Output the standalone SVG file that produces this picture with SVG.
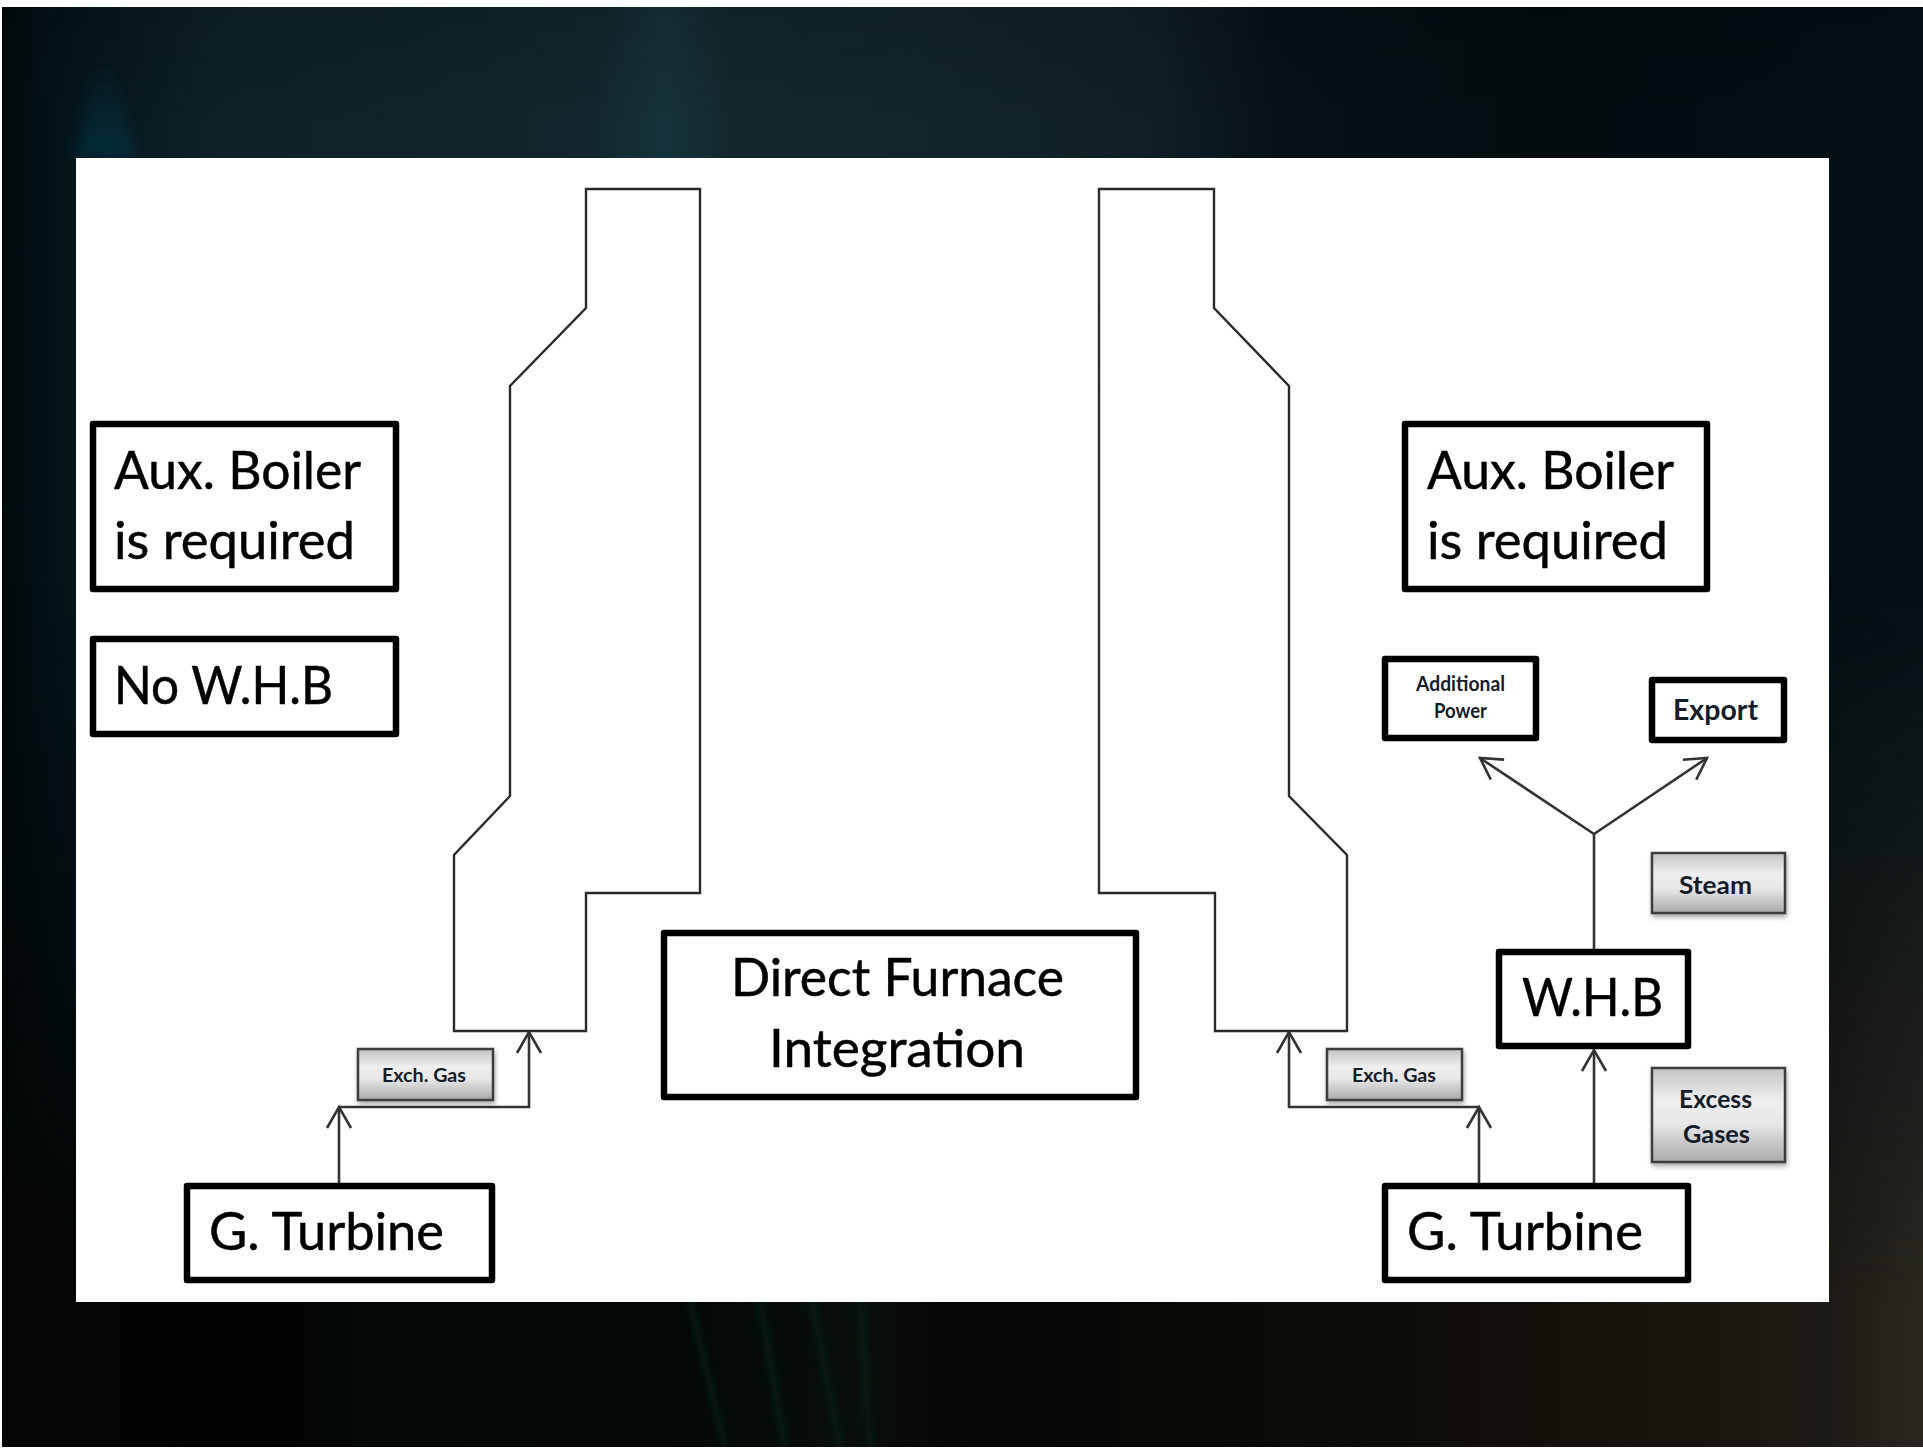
<svg xmlns="http://www.w3.org/2000/svg" width="1923" height="1453" viewBox="0 0 1923 1453">
<style>
.box{fill:#fff;stroke:#000;stroke-width:6.5;stroke-linejoin:round}
.gray{fill:url(#gray);stroke:#3c3c3c;stroke-width:2.5;filter:url(#sh)}
.big{font-family:Lato,"Liberation Sans",sans-serif;font-size:52px;fill:#000;stroke:#000;stroke-width:.5}
.sm{font-family:Lato,"Liberation Sans",sans-serif;font-weight:700;fill:#141c2a}
.furn{fill:none;stroke:#2a2a2a;stroke-width:2.4;stroke-linejoin:miter}
.con{fill:none;stroke:#333;stroke-width:2.6}
.glow{fill:none;stroke:#0f3a26;stroke-width:5;filter:url(#bs);opacity:.4}
</style>
<defs>
<linearGradient id="top" x1="0" x2="1" y1="0" y2="0">
<stop offset="0" stop-color="#020a0c"/><stop offset=".03" stop-color="#04141a"/><stop offset=".11" stop-color="#0e2126"/><stop offset=".25" stop-color="#11252a"/><stop offset=".31" stop-color="#12282e"/><stop offset=".345" stop-color="#16323a"/><stop offset=".38" stop-color="#13282d"/><stop offset=".47" stop-color="#13262b"/><stop offset=".6" stop-color="#101f24"/><stop offset=".66" stop-color="#071217"/><stop offset=".8" stop-color="#030c0f"/><stop offset="1" stop-color="#041015"/>
</linearGradient>
<linearGradient id="bot" x1="0" x2="1" y1="0" y2="0">
<stop offset="0" stop-color="#030403"/><stop offset=".15" stop-color="#010302"/><stop offset=".2" stop-color="#030a08"/><stop offset=".33" stop-color="#040806"/><stop offset=".41" stop-color="#060d09"/><stop offset=".45" stop-color="#090f0a"/><stop offset=".5" stop-color="#080604"/><stop offset=".7" stop-color="#0d0c08"/><stop offset=".85" stop-color="#17130d"/><stop offset=".95" stop-color="#1d1b15"/><stop offset="1" stop-color="#2a2720"/>
</linearGradient>
<linearGradient id="fade" x1="0" x2="0" y1="0" y2="1">
<stop offset="0" stop-color="#000"/><stop offset=".4" stop-color="#000"/><stop offset=".9" stop-color="#fff"/><stop offset="1" stop-color="#fff"/>
</linearGradient>
<mask id="m" maskUnits="userSpaceOnUse" x="0" y="0" width="1923" height="1453"><rect x="0" y="0" width="1923" height="1453" fill="url(#fade)"/></mask>
<clipPath id="bg"><rect x="2" y="7" width="1921" height="1440"/></clipPath>
<linearGradient id="shade" x1="0" x2="0" y1="0" y2="1">
<stop offset="0" stop-color="#000" stop-opacity=".15"/><stop offset="1" stop-color="#000" stop-opacity="0"/>
</linearGradient>
<linearGradient id="gray" x1="0" x2="0" y1="0" y2="1">
<stop offset="0" stop-color="#c4c4c4"/><stop offset=".35" stop-color="#eeeeee"/><stop offset=".6" stop-color="#e6e6e6"/><stop offset="1" stop-color="#a9a9a9"/>
</linearGradient>
<linearGradient id="streak" x1="0" x2="0" y1="0" y2="1">
<stop offset="0" stop-color="#0f4460" stop-opacity="0"/><stop offset="1" stop-color="#0f4460" stop-opacity=".45"/>
</linearGradient>
<filter id="sh" x="-10%" y="-10%" width="125%" height="135%"><feDropShadow dx="1" dy="3" stdDeviation="2.5" flood-color="#000" flood-opacity=".35"/></filter>
<filter id="bl" x="-50%" y="-10%" width="200%" height="120%"><feGaussianBlur stdDeviation="7"/></filter>
<filter id="bs" x="-200%" y="-5%" width="500%" height="110%"><feGaussianBlur stdDeviation="3"/></filter>
<marker id="arr" markerUnits="userSpaceOnUse" viewBox="-24 -14 28 28" refX="0" refY="0" markerWidth="28" markerHeight="28" orient="auto">
<path d="M-21 -12L0 0L-21 12" fill="none" stroke="#333" stroke-width="2.6"/>
</marker>
</defs>
<rect width="1923" height="1453" fill="#fff"/>
<g id="background">
<rect x="2" y="7" width="1921" height="1440" fill="url(#top)"/>
<rect x="2" y="7" width="1921" height="120" fill="url(#shade)"/>
<rect x="2" y="7" width="1921" height="1440" fill="url(#bot)" mask="url(#m)"/>
<path d="M92 60L112 60L135 158L76 158Z" fill="url(#streak)" filter="url(#bl)"/>
<g clip-path="url(#bg)"><path class="glow" d="M690 1302L725 1447M760 1302L785 1447M812 1302L840 1447M860 1302L870 1447"/></g>
<rect x="76" y="158" width="1753" height="1144" fill="#fff"/>
</g>
<g id="furnace-left"><path class="furn" d="M586 189H700V893H586V1031H454V855L510 796V386L586 308Z"/></g>
<g id="furnace-right"><path class="furn" d="M1099 189H1214V308L1289 386V796L1347 855V1031H1215V893H1099Z"/></g>
<g id="connectors">
<path class="con" d="M339 1183V1107" marker-end="url(#arr)"/>
<path class="con" d="M339 1107H529V1032" marker-end="url(#arr)"/>
<path class="con" d="M1479 1183V1107" marker-end="url(#arr)"/>
<path class="con" d="M1479 1107H1289V1032" marker-end="url(#arr)"/>
<path class="con" d="M1594 1183V1050" marker-end="url(#arr)"/>
<path class="con" d="M1594 949V834"/>
<path class="con" d="M1594 834L1480 758" marker-end="url(#arr)"/>
<path class="con" d="M1594 834L1707 758" marker-end="url(#arr)"/>
</g>
<g id="aux-left"><rect class="box" x="93" y="424" width="303" height="165"/>
<text class="big" x="114" y="489" textLength="247" lengthAdjust="spacingAndGlyphs">Aux. Boiler</text>
<text class="big" x="114" y="559" textLength="241" lengthAdjust="spacingAndGlyphs">is required</text></g>
<g id="no-whb"><rect class="box" x="93" y="639" width="303" height="95"/>
<text class="big" x="114" y="704" textLength="219" lengthAdjust="spacingAndGlyphs">No W.H.B</text></g>
<g id="turbine-left"><rect class="box" x="187" y="1186" width="305" height="94"/>
<text class="big" x="209" y="1250" textLength="235" lengthAdjust="spacingAndGlyphs">G. Turbine</text></g>
<g id="exch-left"><rect class="gray" x="358" y="1049" width="135" height="51"/>
<text class="sm" font-size="18" x="382" y="1082" textLength="84" lengthAdjust="spacingAndGlyphs">Exch. Gas</text></g>
<g id="direct-furnace"><rect class="box" x="664" y="933" width="472" height="164"/>
<text class="big" x="731" y="996" textLength="333" lengthAdjust="spacingAndGlyphs">Direct Furnace</text>
<text class="big" x="769" y="1067" textLength="256" lengthAdjust="spacingAndGlyphs">Integration</text></g>
<g id="aux-right"><rect class="box" x="1405" y="424" width="302" height="165"/>
<text class="big" x="1427" y="489" textLength="247" lengthAdjust="spacingAndGlyphs">Aux. Boiler</text>
<text class="big" x="1427" y="559" textLength="241" lengthAdjust="spacingAndGlyphs">is required</text></g>
<g id="additional-power"><rect class="box" x="1385" y="659" width="151" height="79"/>
<text class="sm" font-size="20" x="1416" y="691" textLength="89" lengthAdjust="spacingAndGlyphs">Additional</text>
<text class="sm" font-size="20" x="1434" y="718" textLength="53" lengthAdjust="spacingAndGlyphs">Power</text></g>
<g id="export"><rect class="box" x="1652" y="680" width="132" height="60"/>
<text class="sm" font-size="28" x="1673" y="720" textLength="85" lengthAdjust="spacingAndGlyphs">Export</text></g>
<g id="steam"><rect class="gray" x="1652" y="853" width="133" height="60"/>
<text class="sm" font-size="25" x="1679" y="894" textLength="73" lengthAdjust="spacingAndGlyphs">Steam</text></g>
<g id="whb"><rect class="box" x="1499" y="952" width="189" height="94"/>
<text class="big" x="1522" y="1016" textLength="141" lengthAdjust="spacingAndGlyphs">W.H.B</text></g>
<g id="exch-right"><rect class="gray" x="1327" y="1049" width="135" height="51"/>
<text class="sm" font-size="18" x="1352" y="1082" textLength="84" lengthAdjust="spacingAndGlyphs">Exch. Gas</text></g>
<g id="excess-gases"><rect class="gray" x="1652" y="1068" width="133" height="94"/>
<text class="sm" font-size="25" x="1679" y="1108" textLength="73" lengthAdjust="spacingAndGlyphs">Excess</text>
<text class="sm" font-size="25" x="1683" y="1143" textLength="67" lengthAdjust="spacingAndGlyphs">Gases</text></g>
<g id="turbine-right"><rect class="box" x="1385" y="1186" width="303" height="94"/>
<text class="big" x="1407" y="1250" textLength="236" lengthAdjust="spacingAndGlyphs">G. Turbine</text></g>
</svg>
